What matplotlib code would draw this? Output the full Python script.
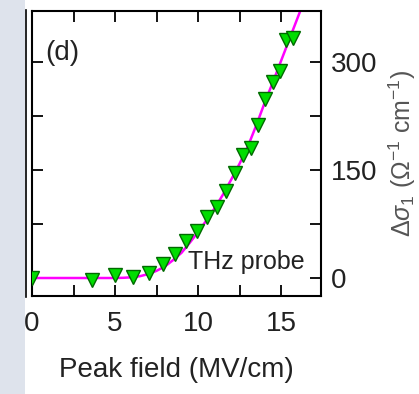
import matplotlib
matplotlib.use("Agg")
import matplotlib.pyplot as plt
from matplotlib.ticker import MultipleLocator, FixedLocator, NullFormatter
from matplotlib.lines import Line2D
from matplotlib.patches import Rectangle

plt.rcParams['font.family'] = ['Liberation Sans', 'DejaVu Sans']
plt.rcParams['mathtext.fontset'] = 'custom'
plt.rcParams['mathtext.rm'] = 'Liberation Sans'
plt.rcParams['mathtext.it'] = 'Liberation Sans:italic'

# measured data (peak field MV/cm, delta sigma)
field = [0.0, 3.6, 5.0, 6.1, 7.05, 7.87, 8.6, 9.26, 9.96, 10.56, 11.12, 11.69,
         12.23, 12.73, 13.17, 13.6, 14.04, 14.5, 14.94, 15.3, 15.74]
dsigma = [0, -3, 4, 1, 6.5, 20, 34, 52, 66, 85, 99, 121,
          146, 171, 181, 213, 249, 273, 287, 331, 334]

# fit curve
fit_x = [0, 5.0, 5.5, 6.0, 6.5, 7.0, 7.5, 8.0, 8.5, 9.0, 9.5, 10.0, 10.5, 11.0,
         11.5, 12.0, 12.5, 13.0, 13.5, 14.0, 14.5, 15.0, 15.5, 16.0, 16.3]
fit_y = [0, 0, 0.3, 1, 2.5, 5.5, 10, 16, 25, 35, 49, 64, 80, 97,
         116, 137, 159, 183, 212, 243, 272, 302, 332, 362, 380]

xticks = [0, 5, 10, 15]
yticks = [0, 150, 300]

W, H = 419, 394
fig = plt.figure(figsize=(W / 100, H / 100), dpi=100)
fig.patch.set_facecolor('white')

# left grey strip and neighbouring panel edge
fig.patches.append(Rectangle((0, 0), 25 / W, 1, transform=fig.transFigure,
                             facecolor='#dee3ec', edgecolor='none', zorder=0))
fig.lines.append(Line2D([26 / W, 26 / W], [1 - 297 / H, 1 - 10 / H],
                        transform=fig.transFigure, color='black', lw=1.2))

ax = fig.add_axes([32 / W, 1 - 296 / H, 289 / W, 285 / H])
ax.plot(fit_x, fit_y, color='#ff00ff', lw=1.8, zorder=2)
ax.plot(field, dsigma, linestyle='none', marker='v', ms=10,
        markerfacecolor='#00dd00', markeredgecolor='#006a00', markeredgewidth=1,
        zorder=3, clip_on=True)

ax.set_xlim(0, 17.4)
ax.set_ylim(-25, 371)

ax.xaxis.set_major_locator(FixedLocator(xticks))
ax.xaxis.set_minor_locator(MultipleLocator(2.5))
ax.yaxis.set_major_locator(FixedLocator(yticks))
ax.yaxis.set_minor_locator(MultipleLocator(75))
ax.yaxis.set_minor_formatter(NullFormatter())
ax.xaxis.set_minor_formatter(NullFormatter())

ax.tick_params(axis='both', which='both', direction='in', length=8, width=1.3,
               top=True, bottom=True, left=True, right=True,
               labelleft=False, labelright=True, labelsize=20,
               labelcolor='#222222')
ax.tick_params(axis='x', which='major', pad=11)
ax.tick_params(axis='y', which='major', pad=7)
for s in ax.spines.values():
    s.set_linewidth(1.5)

ax.yaxis.set_label_position('right')
ax.set_xlabel('Peak field (MV/cm)', fontsize=20, labelpad=14, color='#222222')
ax.set_ylabel(r'$\Delta\sigma_1$ ($\Omega^{-1}$ cm$^{-1}$)', fontsize=18,
              rotation=90, labelpad=7, color='#555555')

ax.text(0.045, 0.853, '(d)', transform=ax.transAxes, fontsize=20,
        ha='left', va='center', color='#222222')
ax.text(9.4, 12.5, 'THz probe', fontsize=18, ha='left', va='baseline',
        color='#222222')

fig.savefig('out.png', dpi=100)
